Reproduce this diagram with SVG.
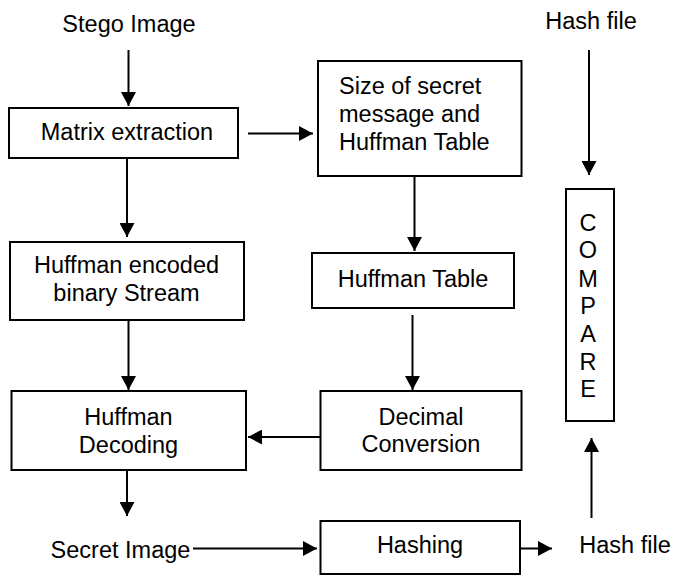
<svg xmlns="http://www.w3.org/2000/svg" width="686" height="576" viewBox="0 0 686 576">
<style>
text{font-family:"Liberation Sans",Arial,sans-serif;font-size:23.5px;fill:#000}
.m{text-anchor:middle}
rect{fill:#fff;stroke:#000;stroke-width:2}
line{stroke:#000;stroke-width:2}
</style>
<defs>
<marker id="ah" markerUnits="userSpaceOnUse" markerWidth="15" markerHeight="15" refX="14" refY="7.5" orient="auto">
<path d="M0,0 L14,7.5 L0,15 z" fill="#000"/>
</marker>
</defs>
<rect width="686" height="576" style="fill:#fff;stroke:none"/>
<g id="connectors">
<line x1="128.5" y1="50" x2="128.5" y2="106" marker-end="url(#ah)"/>
<line x1="248" y1="133.5" x2="313" y2="133.5" marker-end="url(#ah)"/>
<line x1="127" y1="158" x2="127" y2="237" marker-end="url(#ah)"/>
<line x1="414.5" y1="176" x2="414.5" y2="251" marker-end="url(#ah)"/>
<line x1="128.5" y1="320" x2="128.5" y2="390" marker-end="url(#ah)"/>
<line x1="412.5" y1="315" x2="412.5" y2="390" marker-end="url(#ah)"/>
<line x1="320" y1="437" x2="248" y2="437" marker-end="url(#ah)"/>
<line x1="127" y1="470" x2="127" y2="516" marker-end="url(#ah)"/>
<line x1="193" y1="548.5" x2="317" y2="548.5" marker-end="url(#ah)"/>
<line x1="520" y1="548.5" x2="552" y2="548.5" marker-end="url(#ah)"/>
<line x1="591.5" y1="518" x2="591.5" y2="438" marker-end="url(#ah)"/>
<line x1="589" y1="50" x2="589" y2="175" marker-end="url(#ah)"/>
</g>
<g id="stego-image"><text class="m" x="129" y="32">Stego Image</text></g>
<g id="hash-file-top"><text class="m" x="591" y="29">Hash file</text></g>
<g id="matrix-extraction">
<rect x="9" y="108" width="229" height="50"/>
<text class="m" x="127" y="140">Matrix extraction</text>
</g>
<g id="size-box">
<rect x="318" y="61" width="203.5" height="115"/>
<text x="339" y="94">Size of secret</text>
<text x="339" y="122">message and</text>
<text x="339" y="150">Huffman Table</text>
</g>
<g id="compare">
<rect x="566" y="189" width="48" height="232"/>
<text class="m" x="588" y="231">C</text>
<text class="m" x="588" y="258">O</text>
<text class="m" x="588" y="286.5">M</text>
<text class="m" x="588" y="313.5">P</text>
<text class="m" x="588" y="341.5">A</text>
<text class="m" x="588" y="370">R</text>
<text class="m" x="588" y="397">E</text>
</g>
<g id="huffman-encoded">
<rect x="10" y="242" width="234" height="78"/>
<text class="m" x="126.5" y="273">Huffman encoded</text>
<text class="m" x="126.5" y="301">binary Stream</text>
</g>
<g id="huffman-table">
<rect x="312" y="253" width="202" height="55"/>
<text class="m" x="413" y="287">Huffman Table</text>
</g>
<g id="huffman-decoding">
<rect x="11.5" y="391" width="234.5" height="79"/>
<text class="m" x="128.5" y="425">Huffman</text>
<text class="m" x="128.5" y="453">Decoding</text>
</g>
<g id="decimal-conversion">
<rect x="320.5" y="391" width="201" height="79"/>
<text class="m" x="421" y="425">Decimal</text>
<text class="m" x="421" y="452">Conversion</text>
</g>
<g id="secret-image"><text class="m" x="120.5" y="558">Secret Image</text></g>
<g id="hashing">
<rect x="320.5" y="521" width="199.5" height="53"/>
<text class="m" x="420" y="553">Hashing</text>
</g>
<g id="hash-file-bottom"><text class="m" x="625" y="553">Hash file</text></g>
</svg>
